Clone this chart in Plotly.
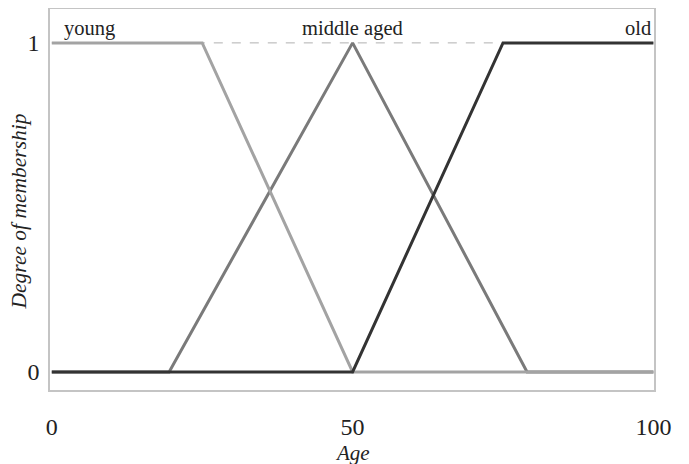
import plotly.graph_objects as go

# Membership functions (age -> degree)
young_x = [0, 25, 50, 100]
young_y = [1, 1, 0, 0]
middle_x = [0, 19.5, 50, 79, 100]
middle_y = [0, 0, 1, 0, 0]
old_x = [0, 50, 75, 100]
old_y = [0, 0, 1, 1]

x_ticks = [0, 50, 100]
y_ticks = [0, 1]
labels = ["young", "middle aged", "old"]
label_x = [1.7, 50, 100]

SERIF = "Liberation Serif"

fig = go.Figure()
fig.add_trace(go.Scatter(x=[0, 100], y=[1, 1], mode="lines",
                         line=dict(color="#b0b0b0", width=1, dash="dash"), hoverinfo="skip"))
fig.add_trace(go.Scatter(x=middle_x, y=middle_y, mode="lines",
                         line=dict(color="#7a7a7a", width=3)))
fig.add_trace(go.Scatter(x=young_x, y=young_y, mode="lines",
                         line=dict(color="#a3a3a3", width=3)))
fig.add_trace(go.Scatter(x=old_x, y=old_y, mode="lines",
                         line=dict(color="#333333", width=3)))

anchors = ["left", "center", "right"]
for t, xv, a in zip(labels, label_x, anchors):
    fig.add_annotation(x=xv, y=1.045, text=t, showarrow=False, xanchor=a, yanchor="middle",
                       font=dict(family=SERIF, size=20.5, color="#222"))

fig.add_annotation(x=0.5, xref="paper", y=0, yref="paper", yshift=-63, text="<i>Age</i>",
                   showarrow=False, yanchor="middle", font=dict(family=SERIF, size=21, color="#222"))
fig.add_annotation(x=0, xref="paper", xshift=-32, y=0.5, yref="paper", yshift=-12,
                   text="<i>Degree of membership</i>",
                   showarrow=False, textangle=-90, xanchor="center",
                   font=dict(family=SERIF, size=21.5, color="#222"))

fig.update_layout(
    width=689, height=464,
    margin=dict(l=42, r=43, t=1, b=82, autoexpand=False),
    plot_bgcolor="white", paper_bgcolor="white",
    showlegend=False,
    font=dict(family=SERIF, size=22, color="#222"),
)
fig.update_xaxes(range=[-0.3, 100.1], tickvals=x_ticks, ticktext=[str(v) for v in x_ticks],
                 showgrid=False, zeroline=False, showline=True, mirror=True, automargin=False,
                 linecolor="#c4c4c4", linewidth=1.5, ticks="", ticklabelstandoff=14,
                 tickfont=dict(family=SERIF, size=24))
fig.update_yaxes(range=[-0.055, 1.103], tickvals=y_ticks, ticktext=[str(v) for v in y_ticks],
                 showgrid=False, zeroline=False, showline=True, mirror=True, automargin=False,
                 linecolor="#c4c4c4", linewidth=1.5, ticks="", ticklabelstandoff=4,
                 tickfont=dict(family=SERIF, size=24))

fig.write_html("out.html")
